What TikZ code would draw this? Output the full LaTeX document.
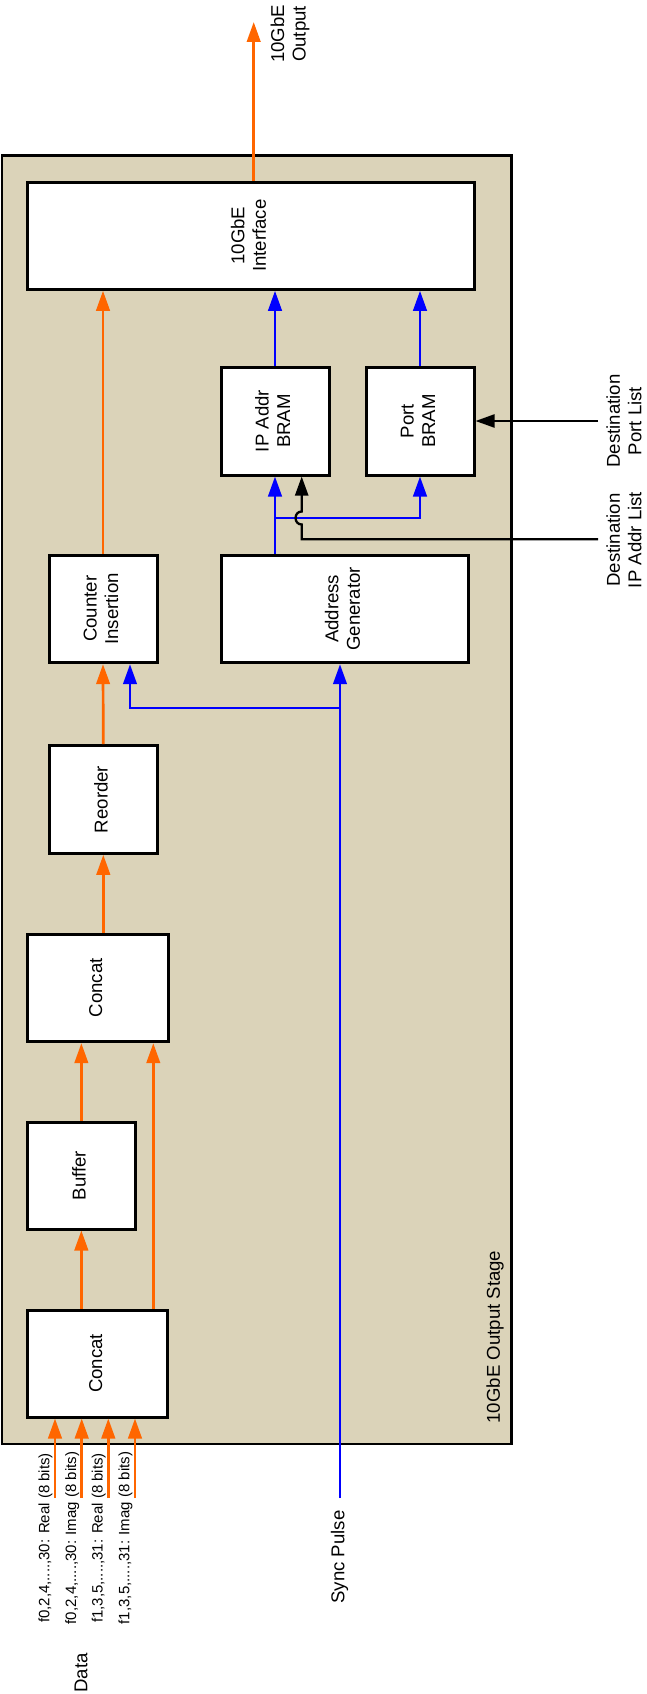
\documentclass[tikz,border=0pt]{standalone}
\usepackage{fontspec}
\setmainfont{Liberation Sans}
\usepackage{graphicx}
\usetikzlibrary{arrows.meta}
\definecolor{stagetan}{RGB}{219,211,185}
\definecolor{orng}{RGB}{255,102,0}
\definecolor{blu}{RGB}{0,0,255}
\newcommand{\rtxt}[1]{\rotatebox{90}{\begin{tabular}{@{}c@{}}#1\end{tabular}}}
\begin{document}
\begin{tikzpicture}[x=1pt,y=-1pt,
  box/.style={draw=black, line width=3pt, fill=white, inner sep=0pt, font=\fontsize{18.6}{21.5}\selectfont},
  lbl/.style={font=\fontsize{18.6}{21.5}\selectfont, inner sep=0pt},
  sml/.style={font=\fontsize{15}{17}\selectfont, inner sep=0pt},
  oarr/.style={draw=orng, line width=2.7pt, -{Triangle[length=20pt,width=13.5pt]}},
  barr/.style={draw=blu, line width=2.7pt, -{Triangle[length=20pt,width=13.5pt]}},
  karr/.style={draw=black, line width=2.3pt, -{Triangle[length=19pt,width=13pt]}},
]
\useasboundingbox (0,0) rectangle (647,1694);

% container
\node[draw=black, line width=2.5pt, fill=stagetan, minimum width=509.7pt, minimum height=1288.3pt, inner sep=0pt] (stage) at (256.85,799.85) {};

% boxes
\node[box, minimum width=446.3pt, minimum height=107.3pt] (iface) at (250.85,235.65) {\rtxt{10GbE\\Interface}};
\node[box, minimum width=108pt, minimum height=108pt] (ipb) at (275,421) {\rtxt{IP Addr\\BRAM}};
\node[box, minimum width=108pt, minimum height=108pt] (portb) at (420,421) {\rtxt{Port\\BRAM}};
\node[box, minimum width=247.7pt, minimum height=107.7pt] (addr) at (344.85,608.85) {\rtxt{Address\\Generator}};
\node[box, minimum width=108pt, minimum height=107.7pt] (counter) at (103,608.85) {\rtxt{Counter\\Insertion}};
\node[box, minimum width=108pt, minimum height=107.6pt] (reorder) at (103.3,799.5) {\rtxt{Reorder}};
\node[box, minimum width=140.3pt, minimum height=107.7pt] (concatA) at (97.85,987.85) {\rtxt{Concat}};
\node[box, minimum width=107.3pt, minimum height=107pt] (buffer) at (81.35,1175.5) {\rtxt{Buffer}};
\node[box, minimum width=140pt, minimum height=107pt] (concatB) at (97.7,1363.5) {\rtxt{Concat}};

% helper coordinates
\coordinate (xr) at (153.3,0);
\coordinate (outtip) at (253.7,22);
\coordinate (sync) at (340,1498);
\coordinate (syncbr) at (340,708);
\coordinate (cntin) at (130,0);
\coordinate (br) at (275,518);
\coordinate (dip) at (598,539.3);
\coordinate (hx) at (301.7,0);
\coordinate (dport) at (598,421);

% orange data path
\draw[oarr] (concatB.north -| buffer.south) -- (buffer.south);
\draw[oarr] (concatB.north -| xr) -- (concatA.south -| xr);
\draw[oarr] (buffer.north) -- (concatA.south -| buffer.north);
\draw[oarr] (concatA.north -| reorder.south) -- (reorder.south);
\draw[oarr] (reorder.north) -- (counter.south);
\draw[oarr] (counter.north) -- (iface.south -| counter.north);
\draw[oarr] (iface.north -| outtip) -- (outtip);
\foreach \i/\x in {1/55,2/81.7,3/108.3,4/135}{
  \coordinate (in\i) at (\x,1498);
  \draw[oarr] (in\i) -- (concatB.south -| in\i);
}

% blue control path
\draw[barr] (sync) -- (addr.south -| sync);
\draw[barr] (syncbr) -| (counter.south -| cntin);
\draw[barr] (addr.north -| ipb.south) -- (ipb.south);
\draw[barr] (br) -| (portb.south);
\draw[barr] (ipb.north) -- (iface.south -| ipb.north);
\draw[barr] (portb.north) -- (iface.south -| portb.north);

% black destination lists
\draw[karr] (dip) -- (dip -| hx) -- (301.7,524.5) .. controls (293.5,524.5) and (293.5,511.5) .. (301.7,511.5) -- (ipb.south -| hx);
\draw[karr] (dport) -- (portb.east);

% labels
\node[lbl, rotate=90, align=center] (outlbl) at (290,34) {10GbE\\Output};
\node[lbl, rotate=90, align=center] (dportlbl) at (624,421) {Destination\\Port List};
\node[lbl, rotate=90, align=center] (diplbl) at (624,540) {Destination\\IP Addr List};
\node[lbl, rotate=90] (stagelbl) at (495,1337) {10GbE Output Stage};
\node[lbl, rotate=90] (synclbl) at (339.5,1557) {Sync Pulse};
\node[lbl, rotate=90] (datalbl) at (81,1673) {Data};
\node[sml, rotate=90] (l1) at (45.5,1538) {f0,2,4,....,30: Real (8 bits)};
\node[sml, rotate=90] (l2) at (72.2,1538) {f0,2,4,....,30: Imag (8 bits)};
\node[sml, rotate=90] (l3) at (98.8,1538) {f1,3,5,....,31: Real (8 bits)};
\node[sml, rotate=90] (l4) at (125.5,1538) {f1,3,5,....,31: Imag (8 bits)};
\end{tikzpicture}
\end{document}
